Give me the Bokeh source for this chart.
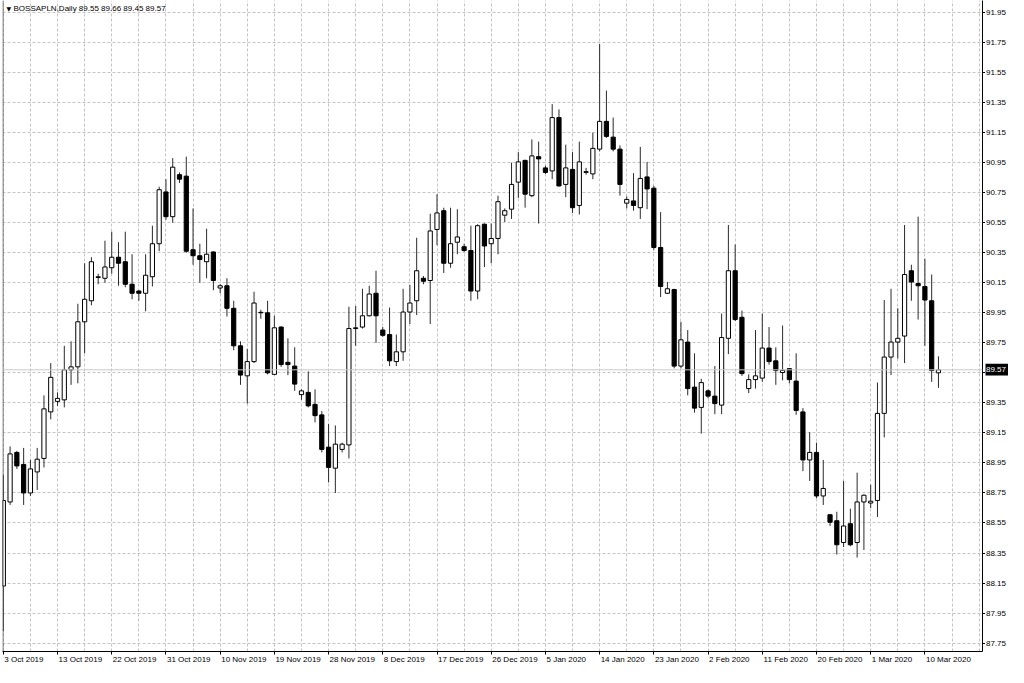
from bokeh.plotting import figure
from bokeh.layouts import row
from bokeh.models import Range1d, FixedTicker, Span, Label, ColumnDataSource, LinearAxis
from bokeh.core.properties import value
from bokeh.embed import file_html
from bokeh.resources import INLINE

symbol = "BOSSAPLN,Daily"

opens = [88.13, 88.69, 89.02, 88.94, 88.75, 88.89, 88.98, 89.29, 89.36, 89.37,
         89.57, 89.59, 89.89, 90.03, 90.185, 90.18, 90.25, 90.32, 90.29, 90.14,
         90.095, 90.08, 90.19, 90.41, 90.755, 90.59, 90.87, 90.86, 90.37, 90.33,
         90.29, 90.355, 90.115, 90.13, 89.98, 89.73, 89.53, 89.625, 89.95, 89.95,
         89.54, 89.855, 89.62, 89.595, 89.405, 89.42, 89.34, 89.27, 89.055, 88.915,
         89.04, 89.07, 89.845, 89.855, 89.93, 90.08, 89.835, 89.805, 89.625, 89.69,
         89.955, 90.03, 90.18, 90.165, 90.505, 90.63, 90.28, 90.42, 90.39, 90.365,
         90.095, 90.54, 90.41, 90.445, 90.60, 90.64, 90.82, 90.965, 90.73, 90.99,
         90.915, 90.895, 91.25, 90.805, 90.905, 90.665, 90.885, 90.875, 91.04, 91.225,
         91.12, 91.04, 90.68, 90.695, 90.65, 90.855, 90.78, 90.385, 90.08, 90.105,
         89.595, 89.755, 89.455, 89.32, 89.43, 89.395, 89.335, 89.78, 90.23, 89.92,
         89.445, 89.505, 89.515, 89.715, 89.63, 89.552, 89.578, 89.495, 89.29, 88.97,
         89.02, 88.73, 88.605, 88.565, 88.42, 88.545, 88.42, 88.69, 88.683, 88.70,
         89.28, 89.655, 89.755, 89.795, 90.23, 90.145, 90.125, 90.03, 89.55]
highs = [88.87, 89.06, 89.03, 89.05, 88.97, 89.05, 89.40, 89.615, 89.42, 89.73,
         89.76, 90.01, 90.28, 90.32, 90.21, 90.43, 90.49, 90.42, 90.49, 90.34,
         90.10, 90.34, 90.53, 90.79, 90.84, 90.98, 90.885, 90.99, 90.645, 90.41,
         90.51, 90.36, 90.14, 90.18, 90.03, 89.76, 89.71, 90.09, 89.97, 90.03,
         89.93, 89.86, 89.78, 89.72, 89.44, 89.56, 89.44, 89.295, 89.21, 89.20,
         89.085, 89.99, 89.995, 90.11, 90.13, 90.23, 89.855, 89.985, 89.805, 90.11,
         90.135, 90.45, 90.195, 90.61, 90.74, 90.65, 90.65, 90.64, 90.41, 90.53,
         90.54, 90.545, 90.545, 90.73, 90.645, 90.95, 91.02, 90.97, 91.105, 91.09,
         90.93, 91.34, 91.305, 91.07, 91.02, 91.09, 90.915, 91.15, 91.74, 91.43,
         91.25, 91.065, 90.725, 90.88, 91.055, 90.955, 90.795, 90.62, 90.155, 90.11,
         89.89, 89.835, 89.68, 89.51, 89.44, 89.595, 89.945, 90.535, 90.405, 89.965,
         89.54, 89.835, 89.945, 89.855, 89.72, 89.865, 89.58, 89.68, 89.315, 89.155,
         89.085, 88.97, 88.61, 88.625, 88.83, 88.645, 88.885, 88.74, 88.805, 89.485,
         90.035, 90.11, 89.98, 90.535, 90.27, 90.59, 90.31, 90.205, 89.66]
lows = [87.83, 88.67, 88.91, 88.67, 88.73, 88.77, 88.92, 89.24, 89.33, 89.32,
        89.47, 89.48, 89.68, 90.00, 90.14, 90.15, 90.21, 90.13, 90.12, 90.04,
        90.03, 89.96, 90.125, 90.36, 90.57, 90.55, 90.815, 90.35, 90.27, 90.15,
        90.18, 90.10, 90.08, 89.925, 89.70, 89.47, 89.345, 89.615, 89.91, 89.54,
        89.535, 89.59, 89.535, 89.43, 89.37, 89.32, 89.22, 89.02, 88.82, 88.75,
        89.02, 88.98, 89.73, 89.845, 89.925, 89.75, 89.79, 89.595, 89.595, 89.63,
        89.875, 89.935, 90.14, 89.875, 90.40, 90.215, 90.25, 90.34, 90.355, 90.03,
        90.04, 90.255, 90.28, 90.34, 90.555, 90.575, 90.715, 90.65, 90.72, 90.545,
        90.875, 90.84, 90.79, 90.72, 90.615, 90.605, 90.87, 90.84, 91.025, 91.115,
        91.025, 90.73, 90.645, 90.63, 90.575, 90.64, 90.37, 90.055, 90.075, 89.58,
        89.58, 89.40, 89.285, 89.145, 89.38, 89.275, 89.275, 89.675, 89.895, 89.53,
        89.415, 89.445, 89.49, 89.605, 89.47, 89.50, 89.48, 89.27, 88.895, 88.83,
        88.715, 88.67, 88.53, 88.34, 88.39, 88.395, 88.32, 88.37, 88.65, 88.59,
        89.12, 89.535, 89.645, 89.615, 90.03, 89.905, 89.73, 89.49, 89.45]
closes = [88.70, 89.01, 88.93, 88.75, 88.91, 88.975, 89.31, 89.52, 89.38, 89.57,
          89.59, 89.89, 90.04, 90.29, 90.19, 90.255, 90.32, 90.28, 90.14, 90.08,
          90.08, 90.20, 90.41, 90.77, 90.59, 90.92, 90.84, 90.36, 90.33, 90.305,
          90.34, 90.165, 90.13, 89.98, 89.73, 89.535, 89.625, 90.015, 89.95, 89.55,
          89.85, 89.605, 89.605, 89.475, 89.43, 89.33, 89.265, 89.04, 88.92, 89.075,
          89.075, 89.845, 89.85, 89.93, 90.075, 89.93, 89.80, 89.63, 89.69, 89.955,
          90.015, 90.23, 90.16, 90.495, 90.615, 90.28, 90.41, 90.455, 90.365, 90.095,
          90.53, 90.395, 90.445, 90.69, 90.63, 90.805, 90.955, 90.74, 90.995, 90.975,
          90.885, 91.25, 90.795, 90.915, 90.65, 90.955, 90.89, 91.045, 91.225, 91.125,
          91.04, 90.805, 90.705, 90.665, 90.845, 90.775, 90.385, 90.125, 90.11, 89.595,
          89.77, 89.445, 89.315, 89.485, 89.395, 89.345, 89.785, 90.23, 89.905, 89.545,
          89.505, 89.53, 89.715, 89.625, 89.565, 89.567, 89.505, 89.30, 88.97, 89.02,
          88.73, 88.78, 88.555, 88.405, 88.53, 88.405, 88.69, 88.735, 88.695, 89.28,
          89.655, 89.755, 89.78, 90.205, 90.155, 90.13, 90.035, 89.565, 89.57]

tick_index = [0, 8, 16, 24, 32, 40, 48, 56, 64, 72, 80, 88, 96, 104, 112, 120, 128, 136]
tick_labels = ["3 Oct 2019", "13 Oct 2019", "22 Oct 2019", "31 Oct 2019", "10 Nov 2019",
               "19 Nov 2019", "28 Nov 2019", "8 Dec 2019", "17 Dec 2019", "26 Dec 2019",
               "5 Jan 2020", "14 Jan 2020", "23 Jan 2020", "2 Feb 2020", "11 Feb 2020",
               "20 Feb 2020", "1 Mar 2020", "10 Mar 2020"]
price_ticks = [87.75, 87.95, 88.15, 88.35, 88.55, 88.75, 88.95, 89.15, 89.35, 89.55,
               89.75, 89.95, 90.15, 90.35, 90.55, 90.75, 90.95, 91.15, 91.35, 91.55,
               91.75, 91.95]
price_labels = ["%.2f" % v for v in price_ticks]
last_price = 89.57
title_text = "BOSSAPLN,Daily  89.55 89.66 89.45 89.57"

FONT = "Liberation Sans"
FS = 8
H = 667
WA, WB = 985, 23          # chart part, price-scale part
BL, BB = 2, 16
X0, X1 = -0.12, 144.5
Y0, Y1 = 87.694, 92.03

# approximate Liberation Sans advance widths (em) to left-align the date texts at their ticks
EM = {" ": 0.278, "O": 0.778, "c": 0.5, "t": 0.278, "N": 0.722, "o": 0.556, "v": 0.5,
      "D": 0.722, "e": 0.556, "J": 0.5, "a": 0.556, "n": 0.556, "F": 0.611, "b": 0.556,
      "M": 0.833, "r": 0.333}
def text_w(s):
    return sum(EM.get(ch, 0.556) for ch in s) * FS

ppb = (WA - BL - 5) / (X1 - X0)
label_pos = [t + (text_w(s) / 2 + 1) / ppb for t, s in zip(tick_index, tick_labels)]

n = len(opens)
xs = list(range(n))
min_h = 0.003
up = dict(x=[], top=[], bottom=[])
dn = dict(x=[], top=[], bottom=[])
for i in range(n):
    o, c = opens[i], closes[i]
    t, b = max(o, c), min(o, c)
    if t - b < min_h:
        t = b + min_h
    d = up if c >= o else dn
    d["x"].append(i); d["top"].append(t); d["bottom"].append(b)

yr = Range1d(Y0, Y1)
p = figure(width=WA, height=H, x_range=Range1d(X0, X1), y_range=yr,
           output_backend="svg", toolbar_location=None, y_axis_location="right",
           min_border_left=BL, min_border_top=0, min_border_right=0, min_border_bottom=BB)
p.background_fill_color = "white"
p.border_fill_color = "white"
p.outline_line_color = None

p.xgrid.ticker = FixedTicker(ticks=list(range(0, 145, 4)))
p.ygrid.ticker = FixedTicker(ticks=price_ticks)
for g in (p.xgrid, p.ygrid):
    g.grid_line_color = "#c4c4c4"
    g.grid_line_dash = "3 2"
    g.grid_line_width = 1

# x axis 1: line + tick marks only
xa = p.xaxis[0]
xa.ticker = FixedTicker(ticks=tick_index)
xa.major_label_overrides = {i: "" for i in tick_index}
xa.major_label_text_font_size = "1px"
xa.major_label_standoff = 0
xa.major_tick_out = 3
xa.major_tick_in = 0
xa.minor_tick_out = 0
xa.minor_tick_in = 0
xa.axis_line_color = "black"
xa.major_tick_line_color = "black"

# x axis 2: the date texts, placed so that they start at their tick
xl = LinearAxis(ticker=FixedTicker(ticks=label_pos),
                major_label_overrides={pos: s for pos, s in zip(label_pos, tick_labels)})
xl.axis_line_color = None
xl.major_tick_line_color = None
xl.minor_tick_line_color = None
xl.major_tick_out = 0
xl.major_tick_in = 0
xl.minor_tick_out = 0
xl.minor_tick_in = 0
xl.major_label_standoff = 0
xl.major_label_text_font = FONT
xl.major_label_text_font_size = "%dpx" % FS
xl.major_label_text_color = "black"
p.add_layout(xl, "below")

# price axis: line + ticks (its texts are drawn in the price-scale panel next to it)
ya = p.yaxis[0]
ya.ticker = FixedTicker(ticks=price_ticks)
ya.major_label_overrides = {v: "" for v in price_ticks}
ya.major_label_text_font_size = "1px"
ya.major_label_standoff = 0
ya.major_tick_out = 3
ya.major_tick_in = 0
ya.minor_tick_out = 0
ya.minor_tick_in = 0
ya.axis_line_color = "black"
ya.major_tick_line_color = "black"

# left border
p.add_layout(Span(location=-0.05, dimension="height", line_color="#505050", line_width=1))
# current price line
p.add_layout(Span(location=last_price, dimension="width", line_color="#c8c8c8", line_width=1))

p.segment(x0=xs, y0=lows, x1=xs, y1=highs, line_color="#2a2a2a", line_width=1)
p.vbar(x="x", top="top", bottom="bottom", width=0.62, source=ColumnDataSource(up),
       fill_color="white", line_color="black", line_width=1)
p.vbar(x="x", top="top", bottom="bottom", width=0.62, source=ColumnDataSource(dn),
       fill_color="black", line_color="black", line_width=1)

# title
p.add_layout(Label(x=X0, y=Y1, x_offset=4, y_offset=-4, text="\u25bc", text_font="DejaVu Sans",
                   text_font_size="6px", text_baseline="top", text_align="left", text_color="black"))
p.add_layout(Label(x=X0, y=Y1, x_offset=11, y_offset=-3, text=title_text, text_font=FONT,
                   text_font_size="%dpx" % FS, text_baseline="top", text_align="left",
                   text_color="black"))

# price-scale panel, sharing the price range
q = figure(width=WB, height=H, x_range=Range1d(0, 1), y_range=yr,
           output_backend="svg", toolbar_location=None,
           x_axis_location=None, y_axis_location=None,
           min_border_left=0, min_border_top=0, min_border_right=0, min_border_bottom=BB)
q.background_fill_color = "white"
q.border_fill_color = "white"
q.outline_line_color = None
q.xgrid.visible = False
q.ygrid.visible = False
q.text(x=[0.02] * len(price_ticks), y=price_ticks, text=price_labels,
       text_font=value(FONT), text_font_size="%dpx" % FS, text_color="black",
       text_align="left", text_baseline="middle")
q.quad(left=[-0.1], right=[1.1], top=[last_price + 0.04], bottom=[last_price - 0.037],
       fill_color="black", line_color=None)
q.text(x=[0.02], y=[last_price], text=["%.2f" % last_price],
       text_font=value(FONT), text_font_size="%dpx" % FS, text_color="white",
       text_align="left", text_baseline="middle")

layout = row(p, q, spacing=0)
open("out.html", "w").write(file_html(layout, INLINE))
